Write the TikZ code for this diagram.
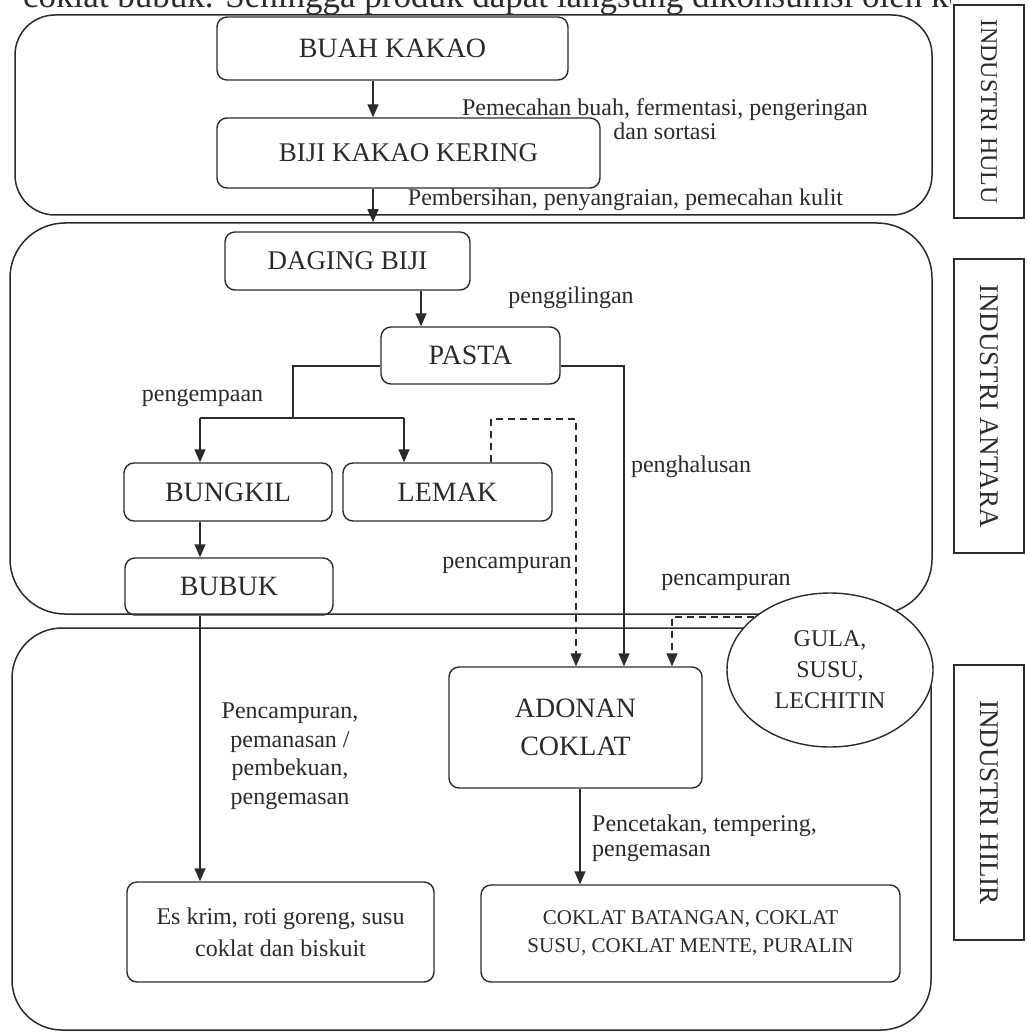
\documentclass[tikz,border=0pt]{standalone}
\usepackage{fontspec}
\setmainfont{Liberation Serif}
\usetikzlibrary{arrows.meta,shapes.geometric}
\definecolor{ink}{gray}{0.17}
\newcommand\myfs[2]{\fontsize{#1}{#2}\selectfont}
\begin{document}
\begin{tikzpicture}[x=1pt,y=-1pt,
  every node/.style={text=ink},
  sec/.style={draw=ink, line width=1.5pt, inner sep=0pt},
  box/.style={draw=ink, line width=1.4pt, rounded corners=10pt, inner sep=0pt, align=center, font=\myfs{28}{34}},
  side/.style={draw=ink, line width=1.4pt, fill=white, inner sep=0pt},
  lbl/.style={inner sep=0pt, font=\myfs{24}{28}},
  arr/.style={draw=ink, line width=1.4pt, -{Triangle[length=13pt,width=11pt]}},
  dsh/.style={dash pattern=on 7pt off 5pt}]
\useasboundingbox (0,0) rectangle (1027,1032);

% cut-off line of running text at the top
\begin{scope}
\clip (0,0) rectangle (950,1032);
\node[anchor=base west, inner sep=0pt, font=\myfs{35}{40}] (toptext) at (23,8) {coklat bubuk. Sehingga produk dapat langsung dikonsumsi oleh konsumen};
\end{scope}

% sections
\node[sec, rounded corners=40pt, minimum width=917pt, minimum height=200pt] (hulu) at (473.5,115) {};
\node[sec, rounded corners=55pt, minimum width=922pt, minimum height=391pt] (antara) at (471,418.5) {};
\node[sec, rounded corners=50pt, minimum width=919pt, minimum height=402pt] (hilir) at (471.5,829) {};

% side labels
\node[side, rotate=-90, minimum width=213pt, minimum height=70pt, font=\myfs{24}{28}] (shulu) at (989,111.5) {INDUSTRI HULU};
\node[side, rotate=-90, minimum width=294pt, minimum height=70pt, font=\myfs{27}{30}] (santara) at (989,406) {INDUSTRI ANTARA};
\node[side, rotate=-90, minimum width=275pt, minimum height=70pt, font=\myfs{27}{30}] (shilir) at (989,802.5) {INDUSTRI HILIR};

% ellipse
\node[ellipse, draw=ink, line width=1.4pt, fill=white, minimum width=206pt, minimum height=154pt, inner sep=0pt, align=center, font=\myfs{24}{31}] (gula) at (830,670) {GULA,\\SUSU,\\LECHITIN};

% boxes
\node[box, minimum width=351pt, minimum height=63pt] (buah) at (392.5,48.5) {BUAH KAKAO};
\node[box, minimum width=383pt, minimum height=70pt, font=\myfs{27}{32}] (biji) at (408.5,153) {BIJI KAKAO KERING};
\node[box, minimum width=245pt, minimum height=58pt, font=\myfs{27}{32}] (daging) at (347.5,261) {DAGING BIJI};
\node[box, minimum width=179pt, minimum height=57pt] (pasta) at (470.5,355.5) {PASTA};
\node[box, minimum width=208pt, minimum height=58pt] (bungkil) at (228,492) {BUNGKIL};
\node[box, minimum width=209pt, minimum height=58pt] (lemak) at (447.5,492) {LEMAK};
\node[box, minimum width=208pt, minimum height=57pt] (bubuk) at (229,586.5) {BUBUK};
\node[box, minimum width=253pt, minimum height=121pt, font=\myfs{28}{38}] (adonan) at (575.5,727.5) {ADONAN\\COKLAT};
\node[box, minimum width=307pt, minimum height=100pt, font=\myfs{24}{32}] (eskrim) at (280.5,932) {Es krim, roti goreng, susu\\coklat dan biskuit};
\node[box, minimum width=419pt, minimum height=97pt, font=\myfs{21}{28}] (coklat) at (690.5,933.5) {COKLAT BATANGAN, COKLAT\\SUSU, COKLAT MENTE, PURALIN};

% helper coordinates
\coordinate (c1) at (373,0);
\coordinate (c2) at (421,0);
\coordinate (c3) at (580,0);
\coordinate (j1) at (293,366);
\coordinate (j2) at (293,418);
\coordinate (jb) at (200,418);
\coordinate (jl) at (404,418);
\coordinate (j3) at (624,366);
\coordinate (d1) at (491,419);
\coordinate (d2) at (576,419);
\coordinate (d3) at (672,617);

% connectors
\draw[arr] (c1 |- buah.south) -- (c1 |- biji.north);
\draw[arr] (c1 |- biji.south) -- (c1 |- antara.north);
\draw[arr] (c2 |- daging.south) -- (c2 |- pasta.north);
\draw[draw=ink, line width=1.4pt] (j1 -| pasta.west) -- (j1) -- (j2);
\draw[draw=ink, line width=1.4pt] (jb) -- (jl);
\draw[arr] (jb) -- (jb |- bungkil.north);
\draw[arr] (jl) -- (jl |- lemak.north);
\draw[arr] (jb |- bungkil.south) -- (jb |- bubuk.north);
\draw[arr] (jb |- bubuk.south) -- (jb |- eskrim.north);
\draw[arr] (j3 -| pasta.east) -- (j3) -- (j3 |- adonan.north);
\draw[arr, dsh] (d1 |- lemak.north) -- (d1) -- (d2) -- (d2 |- adonan.north);
\draw[arr, dsh] (gula.145) -- (gula.145 -| d3) -- (d3 |- adonan.north);
\draw[arr] (c3 |- adonan.south) -- (c3 |- coklat.north);

% labels
\node[lbl, align=center, font=\myfs{24}{24}] (l1) at (665,119) {Pemecahan buah, fermentasi, pengeringan\\dan sortasi};
\node[lbl] (l2) at (625.5,200) {Pembersihan, penyangraian, pemecahan kulit};
\node[lbl] (l3) at (571,298) {penggilingan};
\node[lbl] (l4) at (202.5,398) {pengempaan};
\node[lbl] (l5) at (691,467) {penghalusan};
\node[lbl] (l6) at (507,565) {pencampuran};
\node[lbl] (l7) at (726,582) {pencampuran};
\node[lbl, align=center, font=\myfs{24}{28.5}] (l8) at (290,756) {Pencampuran,\\pemanasan /\\pembekuan,\\pengemasan};
\node[lbl, align=left, anchor=west, font=\myfs{24}{25}] (l9) at (592,838) {Pencetakan, tempering,\\pengemasan};
\end{tikzpicture}
\end{document}
